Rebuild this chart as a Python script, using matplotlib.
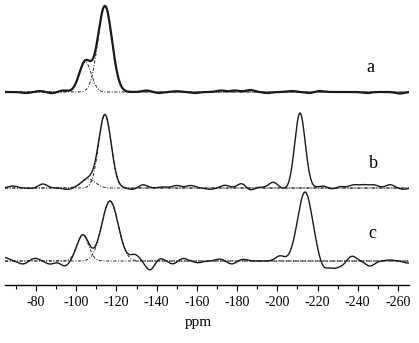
import numpy as np
import matplotlib
matplotlib.use('Agg')
import matplotlib.pyplot as plt
from matplotlib.ticker import MultipleLocator

plt.rcParams['font.family'] = ['Liberation Serif', 'DejaVu Serif']
plt.rcParams['axes.unicode_minus'] = False

# baselines of the stacked spectra (vertical offset units)
base_a, base_b, base_c = 193, 97, 24

# fitted components (dashed) : centre ppm, height, width
fit_a_pos = [-104.5, -114.3]
fit_a_h = [30, 86]
fit_a_w = [3.0, 3.5]

fit_b_pos = [-106.0, -114.3]
fit_b_h = [9, 73]
fit_b_w = [3.5, 3.1]
extra_b_pos = [-211.3]
extra_b_h = [75]
extra_b_w = [2.6]

fit_c_pos = [-103.3, -116.8]
fit_c_h = [26, 60]
fit_c_w = [2.9, 4.1]
extra_c_pos = [-213.8]
extra_c_h = [69]
extra_c_w = [3.7]

# baseline ripples : ppm, offset
rip_a_pos = [-75, -82, -88, -93.5, -135, -141, -150, -159, -172, -179,
             -186.5, -195, -207, -216, -221, -244.5, -261]
rip_a_h = [-1, 1, -1.2, 1.5, 1.5, -1, 0.8, -1, 1.5, 1.5,
           2, -1, 1, -1, 1, -1, -1.5]

rip_b_pos = [-68.5, -78, -83.4, -95.9, -128.2, -133.2, -143.1, -150, -157,
             -166.5, -174, -182.4, -186.4, -190.4, -197.9, -204.8, -222.7,
             -227.7, -231.2, -238, -243, -248, -256.1, -262.5]
rip_b_h = [2, -0.5, 4, -1.5, -1.5, 3.3, 1, 2.5, 2.5,
           -1.3, 2.7, 4.7, -2.7, 1, 5.7, -1.3, 2,
           -1.3, 1.7, 3, 3, 3, 3.3, -1.3]

rip_c_pos = [-64.6, -73.5, -79.5, -87.0, -94.4, -129.2, -136.7, -141.7,
             -148.1, -153.1, -160.6, -171.5, -177.4, -182.9, -201.3, -223,
             -228, -232, -237.1, -246.1, -256, -265]
rip_c_h = [3.3, -3, 2.7, -3, -5, 6, -9, 2.7,
           -3, 2.7, -1.7, 2, -3, 1.7, 5, -8,
           -6, -4, 5, -5, 1, -2]

labels = ['a', 'b', 'c']
label_pos = [(-246.1, 218), (-247.6, 122), (-247.1, 52)]

x = np.linspace(-64.6, -265.5, 1500)


def gauss(c, h, w):
    return h * np.exp(-0.5 * ((x - c) / w) ** 2)


def build(base, fp, fh, fw, ep, eh, ew, rp, rh):
    y = np.full_like(x, float(base))
    comps = []
    for c, h, w in zip(fp, fh, fw):
        g = gauss(c, h, w)
        comps.append(base + g)
        y += g
    for c, h, w in zip(ep, eh, ew):
        y += gauss(c, h, w)
    for c, h in zip(rp, rh):
        y += gauss(c, h, 2.2)
    return y, comps


ya, ca = build(base_a, fit_a_pos, fit_a_h, fit_a_w, [], [], [], rip_a_pos, rip_a_h)
yb, cb = build(base_b, fit_b_pos, fit_b_h, fit_b_w, extra_b_pos, extra_b_h, extra_b_w, rip_b_pos, rip_b_h)
yc, cc = build(base_c, fit_c_pos, fit_c_h, fit_c_w, extra_c_pos, extra_c_h, extra_c_w, rip_c_pos, rip_c_h)

fig = plt.figure(figsize=(4.19, 3.43), dpi=100)
ax = fig.add_axes([5 / 419, 58 / 343, 404 / 419, 285 / 343])

dash = (0, (3, 1.5, 1, 1.5))
for comps in (ca, cb, cc):
    for c in comps:
        ax.plot(x, c, color='#333333', lw=0.75, linestyle=dash)

ax.plot(x, ya, color='#1a1a1a', lw=1.6)
ax.plot(x, yb, color='#1a1a1a', lw=1.0)
ax.plot(x, yc, color='#1a1a1a', lw=1.0)

for t, (px, py) in zip(labels, label_pos):
    ax.text(px, py, t, fontsize=13, ha='center', va='center')

ax.set_xlim(-64.6, -265.5)
ax.set_ylim(0, 285)
for s in ['top', 'left', 'right']:
    ax.spines[s].set_visible(False)
ax.spines['bottom'].set_linewidth(1.0)
ax.set_yticks([])
ax.xaxis.set_major_locator(MultipleLocator(20))
ax.xaxis.set_minor_locator(MultipleLocator(10))
ax.set_xticks(np.arange(-80, -261, -20))
ax.tick_params(axis='x', which='major', length=4, width=0.8, labelsize=10, pad=4)
ax.tick_params(axis='x', which='minor', length=3, width=0.8)

fig.text(198 / 419, 1 - 326 / 343, 'ppm', fontsize=11, ha='center', va='baseline')

fig.savefig('out.png', dpi=100)
